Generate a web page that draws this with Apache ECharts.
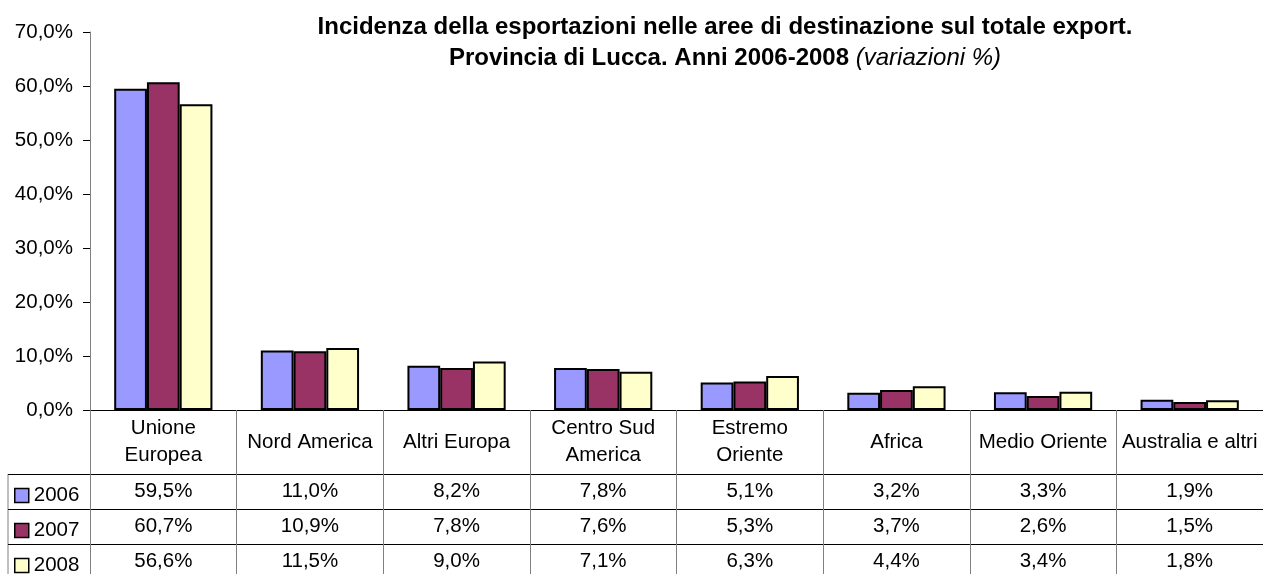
<!DOCTYPE html>
<html lang="it">

<head>
  <meta charset="utf-8">
  <title>Incidenza esportazioni - Provincia di Lucca</title>
  <script src="https://cdn.jsdelivr.net/npm/echarts@6/dist/echarts.min.js"></script>
  <style>
    body {
      margin: 0;
      background: white;
      overflow: hidden;
    }

    main {
      width: 1263px;
      height: 574px;
    }
  </style>
</head>

<body>
  <main id="chart"></main>

  <script>
    // --- Data.

    const CATEGORIES = [
      'Unione\nEuropea', 'Nord America', 'Altri Europa', 'Centro Sud\nAmerica',
      'Estremo\nOriente', 'Africa', 'Medio Oriente', 'Australia e altri'
    ];

    const YEARS = ['2006', '2007', '2008'];

    const VALUES_2006 = [59.5, 11.0, 8.2, 7.8, 5.1, 3.2, 3.3, 1.9];
    const VALUES_2007 = [60.7, 10.9, 7.8, 7.6, 5.3, 3.7, 2.6, 1.5];
    const VALUES_2008 = [56.6, 11.5, 9.0, 7.1, 6.3, 4.4, 3.4, 1.8];

    const Y_TICKS = { min: 0, max: 70, interval: 10 };

    // --- Style.

    const FONT = 'Arial, "Liberation Sans", sans-serif';
    const FONT_SIZE = 20.5;
    const COLORS = ['#9999ff', '#993366', '#ffffcc'];
    const ROW_HEIGHT = 35;
    const HEADER_HEIGHT = 64;

    // Italian style percent, 59.5 -> "59,5%".
    function pct(v) {
      return v.toFixed(1).replace('.', ',') + '%';
    }

    const SERIES_VALUES = [VALUES_2006, VALUES_2007, VALUES_2008];

    // One extra x axis per table row, it only draws the row line and the values.
    function tableAxis(values, row) {
      return {
        type: 'category',
        data: CATEGORIES,
        position: 'bottom',
        offset: HEADER_HEIGHT + row * ROW_HEIGHT,
        axisLine: { show: true, lineStyle: { color: '#000', width: 1 } },
        axisTick: { show: false },
        axisLabel: {
          interval: 0,
          margin: ROW_HEIGHT / 2,
          verticalAlign: 'middle',
          fontSize: FONT_SIZE,
          fontFamily: FONT,
          color: '#000',
          formatter: (_, i) => pct(values[i])
        }
      };
    }

    // Legend keys in the left column of the table.
    function rowLegend(year, row) {
      return {
        data: [year],
        left: 14,
        top: 410 + HEADER_HEIGHT + row * ROW_HEIGHT + 11,
        padding: 0,
        itemWidth: 14,
        itemHeight: 14,
        itemGap: 0,
        selectedMode: false,
        icon: 'rect',
        itemStyle: { borderColor: '#000', borderWidth: 1.5 },
        textStyle: { fontSize: FONT_SIZE, fontFamily: FONT, color: '#000', padding: [0, 0, 0, 0] }
      };
    }

    const option = {
      animation: false,
      title: {
        left: 725,
        top: 12,
        padding: 0,
        textAlign: 'center',
        text: '{b|Incidenza della esportazioni nelle aree di destinazione sul totale export.}\n' +
          '{b|Provincia di Lucca. Anni 2006-2008 }{i|(variazioni %)}',
        textStyle: {
          rich: {
            b: { fontSize: 24, fontWeight: 'bold', fontFamily: FONT, color: '#000', lineHeight: 31 },
            i: { fontSize: 24, fontWeight: 'normal', fontStyle: 'italic', fontFamily: FONT, color: '#000', lineHeight: 31 }
          }
        }
      },
      legend: YEARS.map(rowLegend),
      grid: { left: 90, right: -8, top: 32, bottom: 164 },
      xAxis: [
        {
          type: 'category',
          data: CATEGORIES,
          position: 'bottom',
          axisLine: { show: true, lineStyle: { color: '#000', width: 1 } },
          axisTick: { show: true, length: 170, lineStyle: { color: '#808080' } },
          axisLabel: {
            interval: 0,
            margin: 32,
            verticalAlign: 'middle',
            fontSize: FONT_SIZE,
            lineHeight: 27,
            fontFamily: FONT,
            color: '#000'
          }
        }
      ].concat(SERIES_VALUES.map(tableAxis)),
      yAxis: {
        type: 'value',
        min: Y_TICKS.min,
        max: Y_TICKS.max,
        interval: Y_TICKS.interval,
        axisLine: { show: true, lineStyle: { color: '#808080' } },
        axisTick: { show: true, length: 7, lineStyle: { color: '#000' } },
        splitLine: { show: false },
        axisLabel: {
          margin: 17,
          fontSize: FONT_SIZE,
          fontFamily: FONT,
          color: '#000',
          formatter: v => pct(v)
        }
      },
      series: YEARS.map((year, i) => ({
        name: year,
        type: 'bar',
        xAxisIndex: 0,
        data: SERIES_VALUES[i],
        barGap: '0%',
        barCategoryGap: '33%',
        itemStyle: { color: COLORS[i], borderColor: '#000', borderWidth: 2 }
      })),
      // Borders of the legend column, left of the plot.
      graphic: [
        { type: 'line', shape: { x1: 8, y1: 474, x2: 8, y2: 580 }, style: { stroke: '#808080', lineWidth: 1 } },
        { type: 'line', shape: { x1: 8, y1: 474.5, x2: 90, y2: 474.5 }, style: { stroke: '#000', lineWidth: 1 } },
        { type: 'line', shape: { x1: 8, y1: 509.5, x2: 90, y2: 509.5 }, style: { stroke: '#000', lineWidth: 1 } },
        { type: 'line', shape: { x1: 8, y1: 544.5, x2: 90, y2: 544.5 }, style: { stroke: '#000', lineWidth: 1 } }
      ]
    };

    const chart = echarts.init(document.getElementById('chart'));
    chart.setOption(option);
  </script>
</body>

</html>
